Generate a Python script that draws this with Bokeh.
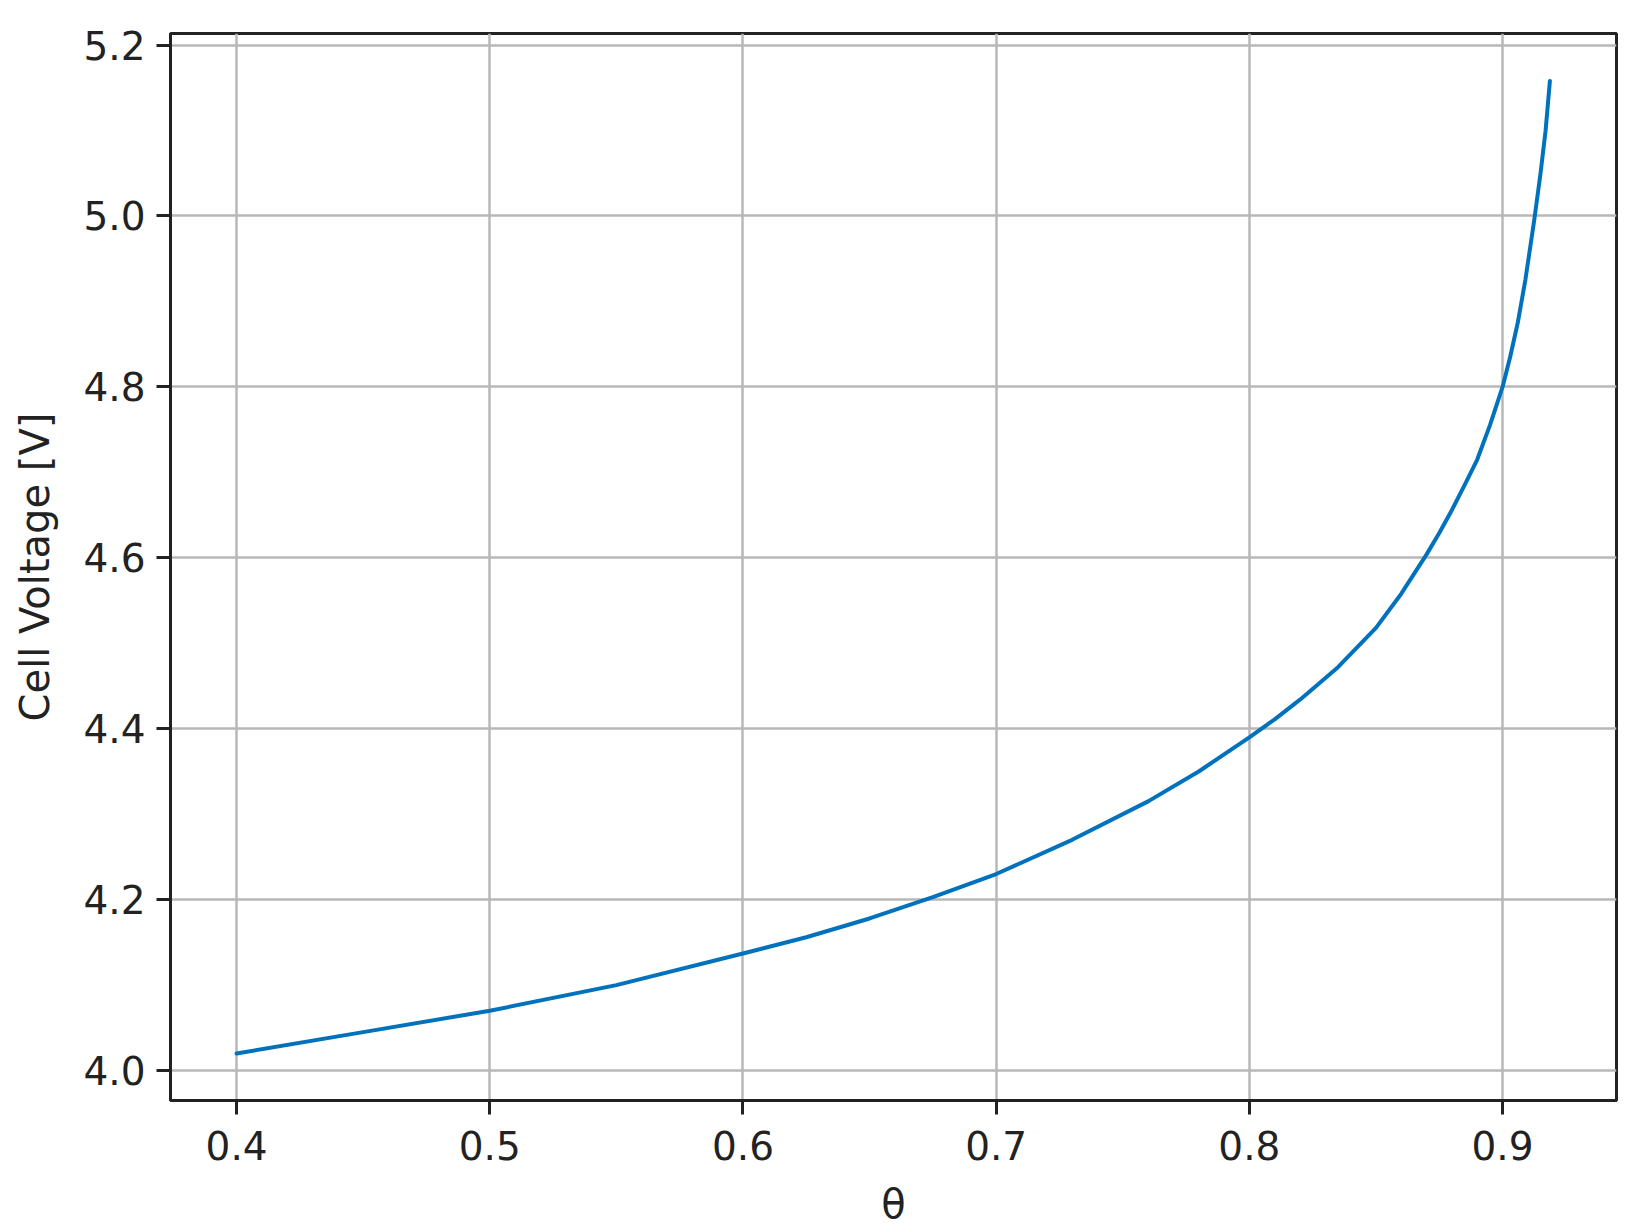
from bokeh.plotting import figure
from bokeh.models import Range1d, FixedTicker
from bokeh.embed import file_html
from bokeh.resources import INLINE

# Data
theta = [0.400, 0.450, 0.500, 0.550, 0.600, 0.625, 0.650, 0.675, 0.700,
         0.730, 0.760, 0.780, 0.800, 0.810, 0.820, 0.835, 0.850, 0.860,
         0.870, 0.875, 0.880, 0.885, 0.890, 0.895, 0.900, 0.903, 0.906,
         0.909, 0.9125, 0.915, 0.917, 0.9187]
voltage = [4.020, 4.045, 4.070, 4.100, 4.137, 4.156, 4.178, 4.203, 4.230,
           4.270, 4.315, 4.350, 4.390, 4.411, 4.434, 4.472, 4.518, 4.558,
           4.604, 4.629, 4.656, 4.685, 4.715, 4.755, 4.800, 4.835, 4.875,
           4.925, 4.995, 5.050, 5.100, 5.158]

x_ticks = [0.4, 0.5, 0.6, 0.7, 0.8, 0.9]
x_tick_labels = ["0.4", "0.5", "0.6", "0.7", "0.8", "0.9"]
y_ticks = [4.0, 4.2, 4.4, 4.6, 4.8, 5.0, 5.2]
y_tick_labels = ["4.0", "4.2", "4.4", "4.6", "4.8", "5.0", "5.2"]

FONT = "DejaVu Sans"

p = figure(width=1638, height=1230, output_backend="svg", toolbar_location=None,
           x_range=Range1d(0.3739, 0.945), y_range=Range1d(3.965, 5.2135),
           min_border_left=170, min_border_right=22, min_border_top=33,
           min_border_bottom=130)
p.background_fill_color = "white"
p.border_fill_color = "white"
p.outline_line_color = "#222222"
p.outline_line_width = 3
p.outline_line_alpha = 1.0

p.line(theta, voltage, line_color="#0072BD", line_width=4,
       line_join="round", line_cap="round")

p.xaxis.ticker = FixedTicker(ticks=x_ticks)
p.yaxis.ticker = FixedTicker(ticks=y_ticks)
p.xaxis.major_label_overrides = {t: l for t, l in zip(x_ticks, x_tick_labels)}
p.yaxis.major_label_overrides = {t: l for t, l in zip(y_ticks, y_tick_labels)}

for ax in (p.xaxis, p.yaxis):
    ax.axis_line_color = "#222222"
    ax.axis_line_width = 3
    ax.major_tick_line_color = "#222222"
    ax.major_tick_line_width = 3
    ax.major_tick_in = 0
    ax.major_tick_out = 14
    ax.minor_tick_line_color = None
    ax.major_label_text_font = FONT
    ax.major_label_text_font_size = "39px"
    ax.major_label_text_color = "#222222"
    ax.axis_label_text_font = FONT
    ax.axis_label_text_font_size = "40px"
    ax.axis_label_text_font_style = "normal"
    ax.axis_label_text_color = "#222222"

p.xaxis.axis_label = "θ"
p.yaxis.axis_label = "Cell Voltage [V]"
p.xaxis.major_label_standoff = 16
p.yaxis.major_label_standoff = 11
p.xaxis.axis_label_standoff = 18
p.yaxis.axis_label_standoff = 22

p.xgrid.ticker = FixedTicker(ticks=x_ticks)
p.ygrid.ticker = FixedTicker(ticks=y_ticks)
p.grid.grid_line_color = "#b8b8b8"
p.grid.grid_line_width = 2.5

open("out.html", "w").write(file_html(p, INLINE))
